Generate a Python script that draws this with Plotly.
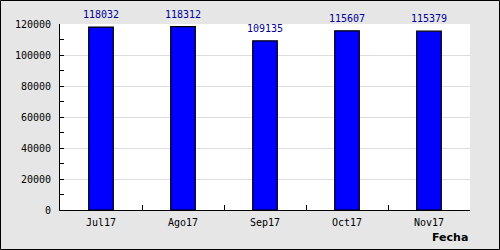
import plotly.graph_objects as go

categories = ["Jul17", "Ago17", "Sep17", "Oct17", "Nov17"]
values = [118032, 118312, 109135, 115607, 115379]
y_ticks = [0, 20000, 40000, 60000, 80000, 100000, 120000]
x_title = "Fecha"

L, R, T, B = 60, 30, 24, 40
W, H = 500, 250
pw, ph = W - L - R, H - T - B

fig = go.Figure(go.Bar(
    x=categories, y=values,
    marker=dict(color="#0000ff", line=dict(color="#000000", width=1.2)),
    cliponaxis=False, width=0.3,
))

value_labels = [dict(
    x=c, y=v, xref="x", yref="y", text=str(v), showarrow=False,
    xanchor="center", yanchor="bottom", yshift=5,
    font=dict(family="DejaVu Sans Mono", size=10, color="#000099"),
) for c, v in zip(categories, values)]

fig.update_layout(
    width=W, height=H,
    margin=dict(l=L, r=R, t=T, b=B),
    paper_bgcolor="#e6e6e6", plot_bgcolor="#ffffff",
    showlegend=False,
    font=dict(family="DejaVu Sans Mono", size=10, color="#000000"),
    xaxis=dict(
        type="category", range=[-0.5, 4.5],
        showline=True, linecolor="#000000", linewidth=1,
        ticks="inside", tickson="boundaries", ticklen=5, tickcolor="#000000",
        showgrid=False,
        tickfont=dict(family="DejaVu Sans Mono", size=10),
        ticklabelstandoff=3,
        fixedrange=True,
    ),
    yaxis=dict(
        range=[0, 120000], tickvals=y_ticks, ticktext=[str(v) for v in y_ticks],
        showline=True, linecolor="#000000", linewidth=1,
        ticks="inside", ticklen=4, tickcolor="#000000",
        gridcolor="#dddddd", gridwidth=1, zeroline=False,
        minor=dict(dtick=10000, ticks="inside", ticklen=4, tickcolor="#000000", showgrid=False),
        tickfont=dict(family="DejaVu Sans Mono", size=10),
        ticklabelstandoff=6,
    ),
    annotations=value_labels + [dict(
        text="<b>" + x_title + "</b>", xref="paper", yref="paper",
        x=1, y=-(237 - T - ph) / ph, xanchor="right", yanchor="middle",
        showarrow=False, font=dict(family="DejaVu Sans", size=11, color="#000000"),
    )],
    shapes=[dict(
        type="rect", xref="paper", yref="paper",
        x0=-(L - 0.5) / pw, x1=1 + (R - 0.5) / pw,
        y0=-(B - 0.5) / ph, y1=1 + (T - 0.5) / ph,
        line=dict(color="#000000", width=1), fillcolor="rgba(0,0,0,0)",
        layer="above",
    )],
)

fig.write_html("out.html", config=dict(displayModeBar=False))
